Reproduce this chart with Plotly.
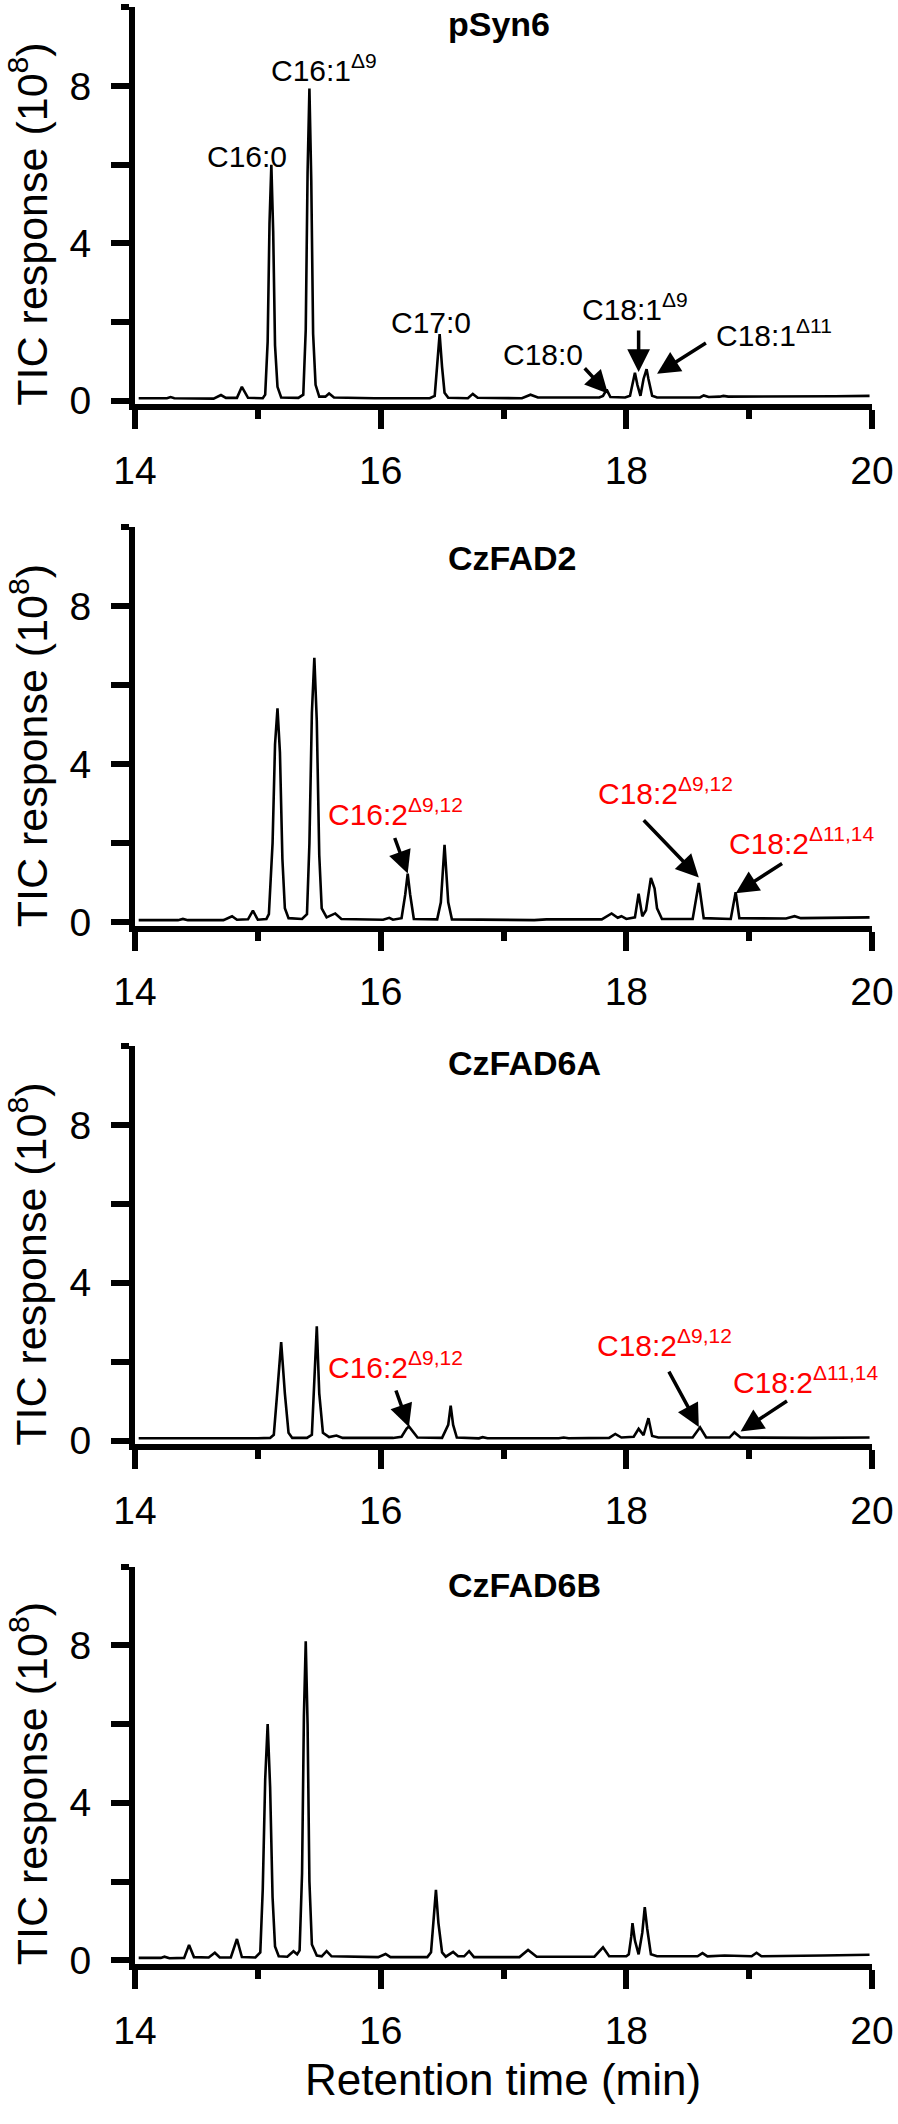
import plotly.graph_objects as go

# ---------------- data (retention time in min, TIC response in 1e8) ----------------
psyn6_t = [14.03, 14.26, 14.29, 14.32, 14.64, 14.70, 14.74, 14.83, 14.87, 14.92, 15.04,
           15.06, 15.08, 15.095, 15.11, 15.125, 15.14, 15.16, 15.19,
           15.33, 15.37, 15.39, 15.405, 15.42, 15.435, 15.45, 15.47, 15.50,
           15.55, 15.58, 15.62, 15.95, 16.40,
           16.44, 16.46, 16.48, 16.50, 16.52, 16.55,
           16.71, 16.75, 16.79, 17.15, 17.22, 17.28, 17.78,
           17.81, 17.84, 17.87, 17.99,
           18.03, 18.055, 18.07, 18.09, 18.115, 18.14, 18.165, 18.18, 18.21, 18.25,
           18.60, 18.63, 18.67, 18.76, 18.79, 18.83, 19.40, 19.70, 19.98]
psyn6_v = [0.06, 0.06, 0.09, 0.06, 0.05, 0.14, 0.07, 0.07, 0.35, 0.07, 0.06,
           0.15, 1.5, 4.5, 6.0, 4.3, 1.4, 0.35, 0.08,
           0.07, 0.15, 1.8, 5.8, 7.94, 5.6, 1.7, 0.4, 0.10,
           0.10, 0.18, 0.08, 0.06, 0.06,
           0.12, 0.9, 1.69, 0.85, 0.2, 0.07,
           0.06, 0.17, 0.07, 0.06, 0.15, 0.08, 0.08,
           0.12, 0.28, 0.09, 0.08,
           0.12, 0.55, 0.71, 0.40, 0.12, 0.55, 0.80, 0.55, 0.12, 0.08,
           0.08, 0.13, 0.09, 0.10, 0.12, 0.10, 0.10, 0.11, 0.12]

czfad2_t = [14.03, 14.35, 14.39, 14.43, 14.72, 14.76, 14.79, 14.83, 14.92, 14.96, 15.00, 15.07,
            15.09, 15.12, 15.14, 15.16, 15.18, 15.20, 15.22, 15.25,
            15.36, 15.40, 15.42, 15.44, 15.46, 15.48, 15.50, 15.52, 15.56, 15.63, 15.68,
            16.02, 16.07, 16.10, 16.17, 16.20, 16.22, 16.24, 16.27, 16.46,
            16.49, 16.52, 16.55, 16.58,
            17.25, 17.35, 17.80, 17.88, 17.93, 17.96, 18.00, 18.07,
            18.10, 18.13, 18.16, 18.20, 18.23, 18.25, 18.29, 18.54,
            18.59, 18.63, 18.85, 18.89, 18.92, 19.30, 19.37, 19.42, 19.98]
czfad2_v = [0.05, 0.05, 0.08, 0.05, 0.05, 0.10, 0.15, 0.06, 0.07, 0.29, 0.06, 0.08,
            0.2, 2.0, 4.5, 5.42, 4.3, 1.6, 0.35, 0.10,
            0.08, 0.2, 2.0, 5.3, 6.70, 5.1, 1.7, 0.35, 0.12, 0.22, 0.08,
            0.06, 0.11, 0.06, 0.10, 0.70, 1.23, 0.70, 0.08, 0.07,
            0.5, 1.96, 0.5, 0.07,
            0.05, 0.07, 0.07, 0.22, 0.11, 0.15, 0.08, 0.12,
            0.72, 0.15, 0.30, 1.12, 0.85, 0.35, 0.08, 0.08,
            0.99, 0.10, 0.08, 0.76, 0.10, 0.09, 0.15, 0.10, 0.12]

czfad6a_t = [14.03, 14.20, 14.50, 15.00, 15.10,
             15.13, 15.16, 15.19, 15.22, 15.25, 15.28,
             15.40, 15.44, 15.46, 15.48, 15.50, 15.53, 15.58, 15.64, 15.69,
             16.10, 16.17, 16.21, 16.23, 16.26, 16.30,
             16.50, 16.55, 16.57, 16.59, 16.62,
             16.80, 16.83, 16.87, 17.45, 17.49, 17.53, 17.86, 17.91, 17.96, 18.06,
             18.10, 18.14, 18.18, 18.21, 18.26, 18.54, 18.60, 18.65, 18.84, 18.88, 18.93,
             19.50, 19.98]
czfad6a_v = [0.06, 0.06, 0.05, 0.06, 0.07,
             0.15, 1.3, 2.5, 1.2, 0.2, 0.07,
             0.07, 0.15, 1.4, 2.9, 1.2, 0.2, 0.09, 0.13, 0.07,
             0.07, 0.10, 0.30, 0.36, 0.25, 0.08,
             0.07, 0.4, 0.89, 0.4, 0.08,
             0.06, 0.09, 0.06, 0.06, 0.08, 0.06, 0.07, 0.17, 0.08, 0.10,
             0.30, 0.14, 0.57, 0.12, 0.08, 0.08, 0.34, 0.08, 0.08, 0.21, 0.08,
             0.07, 0.08]

czfad6b_t = [14.03, 14.21, 14.24, 14.28, 14.40, 14.44, 14.48, 14.55, 14.60, 14.65, 14.69,
             14.78, 14.83, 14.87, 14.98,
             15.02, 15.04, 15.06, 15.08, 15.10, 15.12, 15.14, 15.17,
             15.24, 15.29, 15.32, 15.34, 15.36, 15.375, 15.39, 15.405, 15.42, 15.44, 15.48,
             15.52, 15.56, 15.60, 15.98, 16.04, 16.08, 16.38,
             16.41, 16.43, 16.45, 16.47, 16.50, 16.53, 16.59, 16.63, 16.68, 16.72, 16.76,
             17.13, 17.20, 17.27, 17.74, 17.81, 17.86, 18.00,
             18.02, 18.04, 18.05, 18.07, 18.10, 18.13, 18.15, 18.17, 18.20, 18.25,
             18.58, 18.62, 18.66, 18.80, 19.02, 19.06, 19.10, 19.60, 19.98]
czfad6b_v = [0.06, 0.06, 0.09, 0.05, 0.06, 0.39, 0.08, 0.07, 0.07, 0.19, 0.07,
             0.07, 0.54, 0.08, 0.07,
             0.2, 1.8, 4.6, 6.0, 4.4, 1.6, 0.35, 0.10,
             0.09, 0.23, 0.15, 0.25, 2.2, 6.2, 8.1, 6.0, 2.0, 0.4, 0.12,
             0.10, 0.23, 0.10, 0.08, 0.16, 0.08, 0.08,
             0.2, 1.0, 1.79, 0.95, 0.2, 0.09, 0.21, 0.10, 0.10, 0.23, 0.08,
             0.08, 0.26, 0.09, 0.09, 0.33, 0.10, 0.10,
             0.15, 0.6, 0.94, 0.5, 0.15, 0.7, 1.35, 0.8, 0.15, 0.10,
             0.10, 0.18, 0.10, 0.12, 0.10, 0.19, 0.10, 0.12, 0.14]

panel_names = ["pSyn6", "CzFAD2", "CzFAD6A", "CzFAD6B"]
panel_t = [psyn6_t, czfad2_t, czfad6a_t, czfad6b_t]
panel_v = [psyn6_v, czfad2_v, czfad6a_v, czfad6b_v]

x_ticks = [14, 16, 18, 20]
x_minor = [15, 17, 19]
y_ticks = [0, 2, 4, 6, 8]
y_ticktext = ["0", "", "4", "", "8"]

# peak labels: (panel, text, x, y, colour)
peak_labels = [
    (0, "C16:0", 14.915, 6.2, "black"),
    (0, "C16:1<sup>Δ9</sup>", 15.54, 8.45, "black"),
    (0, "C17:0", 16.41, 1.99, "black"),
    (0, "C18:0", 17.32, 1.16, "black"),
    (0, "C18:1<sup>Δ9</sup>", 18.07, 2.37, "black"),
    (0, "C18:1<sup>Δ11</sup>", 19.20, 1.71, "black"),
    (1, "C16:2<sup>Δ9,12</sup>", 16.12, 2.80, "red"),
    (1, "C18:2<sup>Δ9,12</sup>", 18.32, 3.32, "red"),
    (1, "C18:2<sup>Δ11,14</sup>", 19.43, 2.06, "red"),
    (2, "C16:2<sup>Δ9,12</sup>", 16.12, 1.92, "red"),
    (2, "C18:2<sup>Δ9,12</sup>", 18.31, 2.47, "red"),
    (2, "C18:2<sup>Δ11,14</sup>", 19.46, 1.54, "red"),
]
# arrows: (panel, tail x, tail y, head x, head y)
arrows = [
    (0, 17.65, 0.86, 17.85, 0.18),
    (0, 18.10, 1.82, 18.10, 0.73),
    (0, 18.66, 1.49, 18.25, 0.68),
    (1, 16.11, 2.17, 16.22, 1.23),
    (1, 18.13, 2.62, 18.59, 1.13),
    (1, 19.28, 1.51, 18.89, 0.73),
    (2, 16.12, 1.31, 16.23, 0.35),
    (2, 18.34, 1.79, 18.59, 0.35),
    (2, 19.32, 1.03, 18.93, 0.23),
]

# ---------------- layout geometry (pixels) ----------------
W, H = 898, 2124
ML, MR = 134.5, 26
PW = W - ML - MR
top_px = [7.5, 532, 1055, 1580]
zero_px = [404, 930, 1453, 1977]
gap_px = 3.5
FONT = "Liberation Sans, Arial, sans-serif"

def px_x(p):
    return (p - ML) / PW

def px_y(p):
    return 1 - p / H

fig = go.Figure()
annotations = []
layout = dict(width=W, height=H, margin=dict(l=ML, r=MR, t=0, b=0),
              plot_bgcolor="white", paper_bgcolor="white", showlegend=False,
              font=dict(family=FONT, color="black"))

for i in range(4):
    sx = "" if i == 0 else str(i + 1)
    fig.add_trace(go.Scatter(x=panel_t[i], y=panel_v[i], mode="lines",
                             line=dict(color="black", width=2.6),
                             xaxis="x" + sx, yaxis="y" + sx, hoverinfo="skip"))
    scale = (zero_px[i] - top_px[i]) / 10.0
    ymin = -gap_px / scale
    bottom = zero_px[i] + gap_px
    layout["xaxis" + sx] = dict(
        domain=[0, 1], range=[14, 20], anchor="y" + sx,
        showline=True, linewidth=6, linecolor="black", mirror=False,
        showgrid=False, zeroline=False,
        ticks="outside", tickmode="array", tickvals=x_ticks,
        ticklen=19, tickwidth=6, tickcolor="black",
        minor=dict(tickmode="array", tickvals=x_minor, ticks="outside",
                   ticklen=9, tickwidth=6, tickcolor="black", showgrid=False),
        tickfont=dict(size=39, family=FONT, color="black"),
        ticklabelstandoff=8, fixedrange=True)
    layout["yaxis" + sx] = dict(
        domain=[px_y(bottom), px_y(top_px[i])], range=[ymin, 10], anchor="x" + sx,
        showline=True, linewidth=6, linecolor="black",
        showgrid=False, zeroline=False,
        ticks="outside", tickmode="array", tickvals=y_ticks, ticktext=y_ticktext,
        ticklen=18, tickwidth=6, tickcolor="black",
        minor=dict(tickmode="array", tickvals=[10], ticks="outside",
                   ticklen=8, tickwidth=6, tickcolor="black", showgrid=False),
        tickfont=dict(size=39, family=FONT, color="black"),
        ticklabelstandoff=12, fixedrange=True)
    # y-axis title
    annotations.append(dict(text="TIC response (10<sup>8</sup>)", textangle=-90,
                            xref="paper", yref="paper", x=px_x(28),
                            y=px_y(zero_px[i] - 178), xanchor="center", yanchor="middle",
                            showarrow=False, font=dict(size=43, family=FONT, color="black")))
    # panel title
    title_y = [24, 563, 1072, 1599][i]
    annotations.append(dict(text="<b>%s</b>" % panel_names[i], xref="paper", yref="paper",
                            x=px_x(446), y=px_y(title_y), xanchor="left", yanchor="middle",
                            showarrow=False, font=dict(size=34, family=FONT, color="black")))

for (p, txt, x, y, col) in peak_labels:
    sx = "" if p == 0 else str(p + 1)
    annotations.append(dict(text=txt, x=x, y=y, xref="x" + sx, yref="y" + sx,
                            xanchor="center", yanchor="middle", showarrow=False,
                            font=dict(size=30, family=FONT, color=col)))

for (p, tx, ty, hx, hy) in arrows:
    sx = "" if p == 0 else str(p + 1)
    annotations.append(dict(text="", x=hx, y=hy, ax=tx, ay=ty,
                            xref="x" + sx, yref="y" + sx, axref="x" + sx, ayref="y" + sx,
                            showarrow=True, arrowhead=2, arrowsize=1.3, arrowwidth=3.5,
                            arrowcolor="black", standoff=0))

# x-axis title
annotations.append(dict(text="Retention time (min)", xref="paper", yref="paper",
                        x=px_x(503), y=px_y(2097), xanchor="center", yanchor="middle",
                        showarrow=False, font=dict(size=44, family=FONT, color="black")))

layout["annotations"] = annotations
fig.update_layout(**layout)
fig.write_html("out.html", config={"displayModeBar": False},
               post_script="document.body.style.margin='0';document.body.style.overflow='hidden';")
